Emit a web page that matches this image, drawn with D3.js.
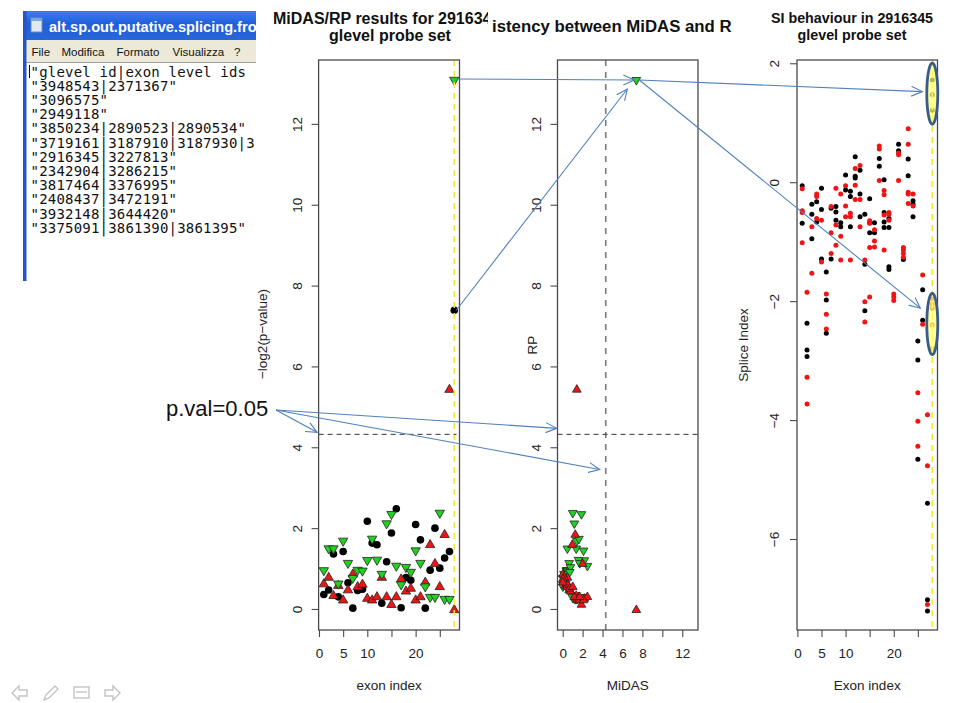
<!DOCTYPE html>
<html><head><meta charset="utf-8">
<script src="https://cdn.jsdelivr.net/npm/d3@7"></script>
<style>body{margin:0;background:#fff}svg{display:block;font-family:"Liberation Sans",Arial,sans-serif}</style>
</head><body><svg id="c" width="963" height="703"></svg>
<script>
// ---------------- data ----------------
const exonIndex = [1,2,3,4,5,6,7,8,9,10,11,12,13,14,15,16,17,18,19,20,21,22,23,24,25,26,27,28];
const midas  = [0.36,0.47,1.36,0.30,1.42,0.65,0.02,0.46,0.49,2.17,1.63,1.59,0.14,1.17,1.88,2.48,0.03,0.78,0.71,2.09,1.71,0.02,0.96,2.00,1.01,1.26,1.42,7.39];
const rpUp   = [0.64,0.80,0.35,0.60,0.24,0.49,0.88,0.57,0.63,0.28,0.24,0.32,0.80,0.32,0.13,0.32,0.76,0.46,0.53,0.24,0.32,0.68,1.61,1.14,0.57,1.86,5.45,0.00];
const rpDown = [0.93,1.47,1.47,0.60,1.66,1.11,0.74,0.94,0.92,1.18,1.71,1.19,0.84,2.09,2.32,1.04,0.58,1.01,0.89,1.42,1.11,0.53,0.27,0.27,2.35,0.22,0.22,13.06];
const siBlack = [
 [-0.06,-0.69],[-2.37,-2.82,-2.93],[-0.37,-0.54,-0.95],[-0.33,-0.67],[-0.10,-0.46,-1.29],
 [-1.51,-1.98,-2.54],[-0.44,-1.29],[-0.41,-0.50,-0.64],[-0.68,-0.75],[0.12,-0.13],
 [-0.15,-0.24,-0.75],[0.43,0.10,0.07],[0.20,-0.20,-0.58],[-0.54,-1.38,-2.16],[-0.28,-0.68,-0.85],
 [-0.68,-0.85],[0.40,0.27],[0.04,-0.51,-0.67,-0.76],[-0.61,-0.76,-1.42,-1.47],[],
 [0.64,0.53],[-1.30],[0.39,0.11],[-0.31,-0.37,-0.58],[-2.67,-2.99,-4.66],
 [-1.81,-2.32],[-5.40,-7.02,-7.21],[1.72,1.47,1.21]
];
const siRed = [
 [-0.11,-0.48,-0.51,-1.02],[-1.85,-3.28,-3.73],[-0.75,-1.53],[-0.20,-0.24,-0.61],[-0.64,-1.34],
 [-1.88,-2.22,-2.47],[-0.41,-0.85,-1.20],[-0.10,-0.72,-1.06],[-0.20,-0.91,-1.31],[-0.06,-0.40,-0.58],
 [-0.52,-0.58,-1.31],[0.23,-0.05,-0.29],[0.28,-0.29,-0.75],[-1.31,-2.01,-2.35],[-0.65,-0.69,-1.10,-1.93],
 [-0.80,-0.99,-1.09],[0.61,0.56,0.03],[-0.14,-0.21,-0.55,-1.14],[-0.51,-0.54,-0.64],[-1.88,-1.93,-1.99],
 [0.49,0.46,0.03],[-1.10,-1.14,-1.20,-1.26],[0.90,0.64,-0.17,-0.20,-0.36],[-0.20,-0.40],[-3.54,-4.02,-4.44],
 [-1.56,-2.39],[-3.91,-4.77,-7.10],[-1.95,-2.05,-2.12,-2.40,-2.80]
];
const exonTicks = [0,5,10,15,20,25];
const exonTickLabels = ["0","5","10","","20",""];
const midasTicks = [0,2,4,6,8,10,12];
const midasTickLabels = ["0","2","4","6","8","","12"];
const pvalTicks = [0,2,4,6,8,10,12];
const siTicks = [-6,-4,-2,0,2];
const threshold = 4.32;           // -log2(0.05)
const highlightExon = 28;
// notepad texts as visible in the (cropped) screenshot
const notepadTitle = "alt.sp.out.putative.splicing.fro";
const notepadMenu = ["File","Modifica","Formato","Visualizza","?"];
const notepadLines = [
 "\"glevel id|exon level ids",
 "\"3948543|2371367\"",
 "\"3096575\"",
 "\"2949118\"",
 "\"3850234|2890523|2890534\"",
 "\"3719161|3187910|3187930|3",
 "\"2916345|3227813\"",
 "\"2342904|3286215\"",
 "\"3817464|3376995\"",
 "\"2408437|3472191\"",
 "\"3932148|3644420\"",
 "\"3375091|3861390|3861395\""
];
const titleP1 = ["MiDAS/RP results for 291634", "glevel probe set"];
const titleP2 = "istency between MiDAS and R";
const titleP3 = ["SI behaviour in 2916345", "glevel probe set"];
const axisTitles = {p1x:"exon index", p1y:"\u2212log2(p\u2212value)", p2x:"MiDAS", p2y:"RP", p3x:"Exon index", p3y:"Splice Index"};
const calloutText = "p.val=0.05";

// ---------------- setup ----------------
const svg = d3.select("#c");
const defs = svg.append("defs");
const AX = "#4a4a4a", TXT = "#222", RED = "#f01414", GREEN = "#1fd21f", YEL = "#f3e83a", BLUE = "#4f81bd";
const SANS = "Liberation Sans, Arial, sans-serif";

const P1 = {x0:318.6, x1:459.5, y0:60, y1:630};
const P2 = {x0:557.5, x1:698,   y0:60, y1:630};
const P3 = {x0:797,   x1:937.5, y0:60, y1:630};

const x1 = d3.scaleLinear().domain([-0.08, 29.08]).range([P1.x0, P1.x1]);
const y1 = d3.scaleLinear().domain([-0.52, 13.58]).range([P1.y1, P1.y0]);
const x2 = d3.scaleLinear().domain([-0.52, 13.58]).range([P2.x0, P2.x1]);
const y2 = d3.scaleLinear().domain([-0.52, 13.58]).range([P2.y1, P2.y0]);
const x3 = d3.scaleLinear().domain([-0.08, 29.08]).range([P3.x0, P3.x1]);
const y3 = d3.scaleLinear().domain([-7.53, 2.055]).range([P3.y1, P3.y0]);

const fmtNum = d => d < 0 ? "\u2212" + Math.abs(d) : String(d);

function frame(P, xs, ys, xt, xl, yt, labOff) {
  const g = svg.append("g");
  g.append("g").attr("transform", `translate(0,${P.y1})`)
    .call(d3.axisBottom(xs).tickValues(xt).tickFormat((d,i)=>xl[i]).tickSize(7).tickPadding(11))
    .call(a => { a.select(".domain").remove();
      a.selectAll("line").attr("stroke", AX).attr("stroke-width",1.1);
      a.selectAll("text").attr("font-size",13.5).attr("fill",TXT).attr("font-family",SANS); });
  g.append("g").attr("transform", `translate(${P.x0},0)`)
    .call(d3.axisLeft(ys).tickValues(yt).tickFormat(fmtNum).tickSize(7))
    .call(a => { a.select(".domain").remove();
      a.selectAll("line").attr("stroke", AX).attr("stroke-width",1.1);
      a.selectAll("text").attr("x",0).attr("dy",0).attr("text-anchor","middle")
        .attr("transform",`translate(${labOff},0) rotate(-90)`)
        .attr("font-size",13.5).attr("fill",TXT).attr("font-family",SANS); });
  return g;
}
function box(P) {
  svg.append("rect").attr("x",P.x0).attr("y",P.y0).attr("width",P.x1-P.x0).attr("height",P.y1-P.y0)
    .attr("fill","none").attr("stroke",AX).attr("stroke-width",1.3);
}

const tri1 = d3.symbol().type(d3.symbolTriangle).size(38)();
const tri2 = d3.symbol().type(d3.symbolTriangle).size(33)();

// ---------------- panel 1 ----------------
frame(P1, x1, y1, exonTicks, exonTickLabels, pvalTicks, -17);
const g1 = svg.append("g");
g1.selectAll("circle").data(exonIndex).join("circle")
  .attr("cx", (d)=>x1(d)).attr("cy",(d,i)=>y1(midas[i])).attr("r",3.8).attr("fill","#000");
g1.selectAll("path.up").data(exonIndex).join("path").attr("class","up")
  .attr("d",tri1).attr("transform",(d,i)=>`translate(${x1(d)},${y1(rpUp[i])+1})`)
  .attr("fill",RED).attr("stroke","#222").attr("stroke-width",0.8);
g1.selectAll("path.dn").data(exonIndex).join("path").attr("class","dn")
  .attr("d",tri1).attr("transform",(d,i)=>`translate(${x1(d)},${y1(rpDown[i])-1}) rotate(180)`)
  .attr("fill",GREEN).attr("stroke","#222").attr("stroke-width",0.8);
svg.append("line").attr("x1",x1(highlightExon)).attr("x2",x1(highlightExon)).attr("y1",P1.y0).attr("y2",P1.y1)
  .attr("stroke",YEL).attr("stroke-width",1.6).attr("stroke-dasharray","6,5");
svg.append("line").attr("x1",P1.x0).attr("x2",P1.x1-3).attr("y1",y1(threshold)).attr("y2",y1(threshold))
  .attr("stroke","#333").attr("stroke-width",1).attr("stroke-dasharray","5,4");
box(P1);

// ---------------- panel 2 ----------------
frame(P2, x2, y2, midasTicks, midasTickLabels, pvalTicks, -17);
const g2 = svg.append("g");
g2.selectAll("path.dn").data(exonIndex).join("path").attr("class","dn")
  .attr("d",tri2).attr("transform",(d,i)=>`translate(${x2(midas[i])},${y2(rpDown[i])-1}) rotate(180)`)
  .attr("fill",GREEN).attr("stroke","#222").attr("stroke-width",0.8);
g2.selectAll("path.up").data(exonIndex).join("path").attr("class","up")
  .attr("d",tri2).attr("transform",(d,i)=>`translate(${x2(midas[i])},${y2(rpUp[i])+1})`)
  .attr("fill",RED).attr("stroke","#222").attr("stroke-width",0.8);
svg.append("line").attr("x1",x2(threshold)).attr("x2",x2(threshold)).attr("y1",P2.y0).attr("y2",P2.y1)
  .attr("stroke","#7a7a7a").attr("stroke-width",1.6).attr("stroke-dasharray","6,6");
svg.append("line").attr("x1",P2.x0).attr("x2",P2.x1).attr("y1",y2(threshold)).attr("y2",y2(threshold))
  .attr("stroke","#333").attr("stroke-width",1).attr("stroke-dasharray","5,4");
box(P2);

// ---------------- panel 3 ----------------
frame(P3, x3, y3, exonTicks, exonTickLabels, siTicks, -18.5);
const g3 = svg.append("g");
const siPts = [];
exonIndex.forEach((e,i)=>{
  siBlack[i].forEach(v=>siPts.push({e, v, c:"#000"}));
  siRed[i].forEach(v=>siPts.push({e, v, c:RED}));
});
g3.selectAll("circle").data(siPts).join("circle")
  .attr("cx",d=>x3(d.e)).attr("cy",d=>y3(d.v)).attr("r",2.5).attr("fill",d=>d.c);
svg.append("line").attr("x1",x3(highlightExon)).attr("x2",x3(highlightExon)).attr("y1",P3.y0).attr("y2",P3.y1)
  .attr("stroke",YEL).attr("stroke-width",1.6).attr("stroke-dasharray","6,5");
box(P3);

// ---------------- titles & axis titles ----------------
defs.append("clipPath").attr("id","clipT1").append("rect").attr("x",250).attr("y",0).attr("width",238).attr("height",50);
defs.append("clipPath").attr("id","clipT2").append("rect").attr("x",489).attr("y",0).attr("width",247).attr("height",50);
function applyS(sel, s){ Object.entries(s).forEach(([k,v])=>sel.attr(k,v)); return sel; }
const tS1 = {"font-size":16, "font-weight":"bold", "fill":"#111", "font-family":SANS};
svg.append("g").attr("clip-path","url(#clipT1)").append("text").attr("x",273).attr("y",23.5).text(titleP1[0]).call(s=>applyS(s,tS1));
applyS(svg.append("text").attr("x",390).attr("y",41).attr("text-anchor","middle").text(titleP1[1]), tS1);
svg.append("g").attr("clip-path","url(#clipT2)").append("text").attr("x",492).attr("y",31.5).text(titleP2)
  .call(s=>applyS(s,{"font-size":16.8,"font-weight":"bold","fill":"#111","font-family":SANS}));
const tS3 = {"font-size":14.3, "font-weight":"bold", "fill":"#111", "text-anchor":"middle", "font-family":SANS};
applyS(svg.append("text").attr("x",852).attr("y",23).text(titleP3[0]), tS3);
applyS(svg.append("text").attr("x",852).attr("y",39.5).text(titleP3[1]), tS3);

const aS = {"font-size":13.5, "fill":TXT, "text-anchor":"middle", "font-family":SANS};
applyS(svg.append("text").attr("x",(P1.x0+P1.x1)/2).attr("y",690).text(axisTitles.p1x), aS);
applyS(svg.append("text").attr("x",(P2.x0+P2.x1)/2).attr("y",690).text(axisTitles.p2x), aS);
applyS(svg.append("text").attr("x",(P3.x0+P3.x1)/2).attr("y",690).text(axisTitles.p3x), aS);
applyS(svg.append("text").attr("transform","translate(267,334) rotate(-90)").text(axisTitles.p1y), aS);
applyS(svg.append("text").attr("transform","translate(537,345) rotate(-90)").text(axisTitles.p2y), aS);
applyS(svg.append("text").attr("transform","translate(748,345) rotate(-90)").text(axisTitles.p3y), aS);

// ---------------- notepad window ----------------
defs.append("clipPath").attr("id","clipNP").append("rect").attr("x",20).attr("y",8).attr("width",236).attr("height",275);
const lg = defs.append("linearGradient").attr("id","tb").attr("x1",0).attr("y1",0).attr("x2",0).attr("y2",1);
lg.append("stop").attr("offset","0%").attr("stop-color","#3d7cf0");
lg.append("stop").attr("offset","45%").attr("stop-color","#1f5fdc");
lg.append("stop").attr("offset","100%").attr("stop-color","#2a66d8");
const np = svg.append("g").attr("clip-path","url(#clipNP)");
np.append("rect").attr("x",23).attr("y",11).attr("width",260).attr("height",270).attr("fill","#fff");
np.append("rect").attr("x",23).attr("y",11).attr("width",260).attr("height",29).attr("fill","url(#tb)");
np.append("rect").attr("x",23).attr("y",40).attr("width",260).attr("height",22).attr("fill","#ece9d8");
np.append("line").attr("x1",26).attr("x2",283).attr("y1",62.5).attr("y2",62.5).attr("stroke","#a0a0a0");
np.append("rect").attr("x",23).attr("y",11).attr("width",3.5).attr("height",270).attr("fill","#2456c8");
np.append("rect").attr("x",31).attr("y",18).attr("width",11).attr("height",14).attr("fill","#dfe9f5").attr("stroke","#6c8cb0");
np.append("rect").attr("x",31).attr("y",18).attr("width",11).attr("height",3).attr("fill","#7aa7d9");
np.append("text").attr("x",49).attr("y",32).attr("font-size",14.6).attr("font-weight","bold").attr("fill","#fff")
  .attr("font-family",SANS).text(notepadTitle);
const mx = [31.5, 61.5, 116.5, 172.5, 234];
notepadMenu.forEach((m,i)=>np.append("text").attr("x",mx[i]).attr("y",55.5).attr("font-size",11.5).attr("fill","#111")
  .attr("font-family",SANS).text(m));
np.append("line").attr("x1",29.5).attr("x2",29.5).attr("y1",65).attr("y2",78).attr("stroke","#000").attr("stroke-width",1);
notepadLines.forEach((l,i)=>np.append("text").attr("x",30.5).attr("y",76.5+i*14.2)
  .attr("font-family","DejaVu Sans Mono, monospace").attr("font-size",14).attr("letter-spacing",0.2)
  .attr("fill","#111").text(l));

// ---------------- annotations ----------------
const mk = defs.append("marker").attr("id","ah").attr("markerUnits","userSpaceOnUse")
  .attr("markerWidth",14).attr("markerHeight",14).attr("refX",11).attr("refY",5).attr("orient","auto")
  .attr("viewBox","0 0 14 10");
mk.append("path").attr("d","M0,0 L11,5 L0,10").attr("fill","none").attr("stroke",BLUE).attr("stroke-width",1.1);
function arrow(a,b){
  svg.append("line").attr("x1",a[0]).attr("y1",a[1]).attr("x2",b[0]).attr("y2",b[1])
    .attr("stroke",BLUE).attr("stroke-width",1.1).attr("marker-end","url(#ah)");
}
svg.append("text").attr("x",166).attr("y",416).attr("font-size",22).attr("fill","#111")
  .attr("font-family",SANS).text(calloutText);
const cs = [276, 410];
arrow(cs, [x1(-0.4), y1(threshold)-2]);
arrow(cs, [x2(-0.6), y2(threshold)-6]);
arrow(cs, [x2(threshold)-6, y2(3.45)]);

// ellipses in SI panel around the highlighted exon
const hiB = siBlack[highlightExon-1], hiR = siRed[highlightExon-1];
const eTop = {cx:x3(highlightExon), y0:y3(d3.max(hiB))-17, y1:y3(d3.min(hiB))+14};
const eBot = {cx:x3(highlightExon), y0:y3(d3.max(hiR))-5, y1:y3(d3.min(hiR))+6};
[eTop,eBot].forEach(e=>{
  svg.append("ellipse").attr("cx",e.cx).attr("cy",(e.y0+e.y1)/2).attr("rx",5.5).attr("ry",(e.y1-e.y0)/2)
    .attr("fill","#ffff70").attr("fill-opacity",0.72).attr("stroke","#385d8a").attr("stroke-width",2.8);
});

const hiIdx = highlightExon-1;
arrow([x1(highlightExon)+3, y1(rpDown[hiIdx])-2], [x2(midas[hiIdx])-2, y2(rpDown[hiIdx])-1]);
arrow([x1(highlightExon)+2, y1(midas[hiIdx])], [x2(midas[hiIdx])-9, y2(rpDown[hiIdx])+8]);
const s2 = [x2(midas[hiIdx])+3, y2(rpDown[hiIdx])-1];
arrow(s2, [eTop.cx-10, (eTop.y0+eTop.y1)/2-2]);
arrow(s2, [eBot.cx-12, eBot.y0+15]);

// ---------------- slide navigation icons ----------------
const ic = svg.append("g").attr("fill","none").attr("stroke","#c4c4c4").attr("stroke-width",1.4);
ic.append("path").attr("d","M12,693 L19,686 L19,690 L27,690 L27,696 L19,696 L19,700 Z");
ic.append("path").attr("d","M44,700 L46,695 L55,686 L58,689 L49,698 Z");
ic.append("rect").attr("x",74).attr("y",687).attr("width",15).attr("height",11);
ic.append("line").attr("x1",76).attr("x2",87).attr("y1",692).attr("y2",692);
ic.append("path").attr("d","M120,693 L113,686 L113,690 L105,690 L105,696 L113,696 L113,700 Z");
</script></body></html>
